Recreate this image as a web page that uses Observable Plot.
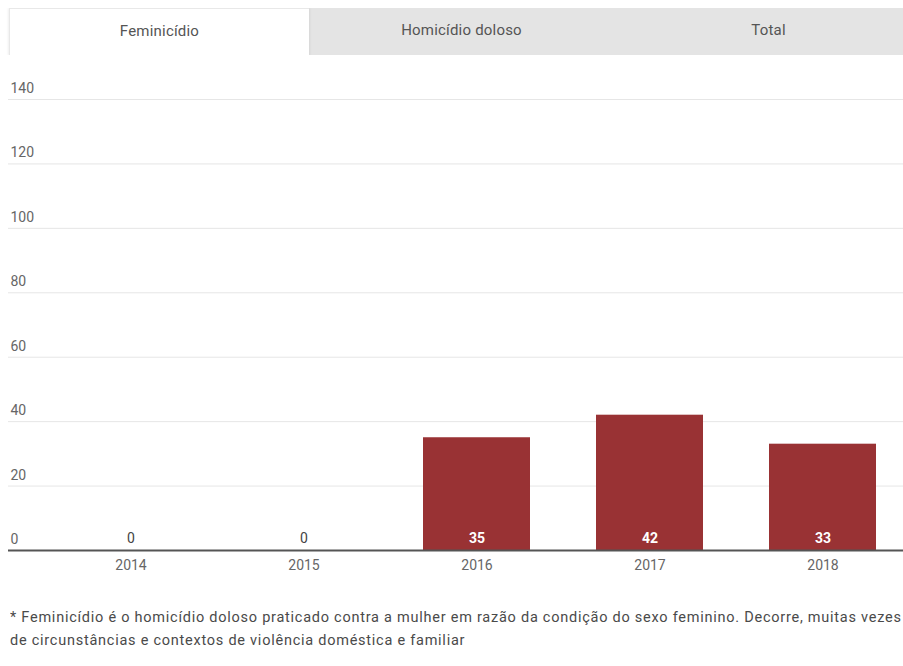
<!DOCTYPE html>
<html>
<head>
<meta charset="utf-8">
<script src="https://cdn.jsdelivr.net/npm/d3@7"></script>
<script src="https://cdn.jsdelivr.net/npm/@observablehq/plot@0.6"></script>
<style>
  html, body { margin: 0; padding: 0; background: #fff; overflow: hidden; width: 903px; height: 666px; font-family: Roboto, "Noto Sans", sans-serif; }
  .tabs { position: absolute; top: 8px; left: 0; width: 903px; height: 47px; overflow: hidden; }
  .tab { position: absolute; top: 0; height: 47px; line-height: 44px; text-align: center; font-size: 15px; letter-spacing: 0.2px; color: #555; }
  .tab.active { background: #fff; box-shadow: 0 0 3px rgba(0,0,0,0.12); border-top: 1px solid #e8e8e8; border-left: 1px solid #e8e8e8; z-index: 2; }
  .tab.inactive { background: #e4e4e4; }
  #chart { position: absolute; top: 60px; left: 0; }
  .note { position: absolute; top: 606px; left: 10px; width: 893px; font-size: 14.5px; letter-spacing: 0.75px; color: #4a4a4a; line-height: 23px; white-space: nowrap; overflow: hidden; }
</style>
</head>
<body>
<div class="tabs" id="tabs"></div>
<div id="chart"></div>
<div class="note" id="note"></div>
<script>
const tabLabels = ["Feminicídio", "Homicídio doloso", "Total"];
const years = ["2014", "2015", "2016", "2017", "2018"];
const values = [0, 0, 35, 42, 33];
const yTicks = [0, 20, 40, 60, 80, 100, 120, 140];
const noteLines = [
  "* Feminicídio é o homicídio doloso praticado contra a mulher em razão da condição do sexo feminino. Decorre, muitas vezes",
  "de circunstâncias e contextos de violência doméstica e familiar"
];

const tabPos = [[9, 299], [308, 307], [615, 307]];
const tabs = document.getElementById("tabs");
tabLabels.forEach((t, i) => {
  const d = document.createElement("div");
  d.className = "tab " + (i === 0 ? "active" : "inactive");
  d.style.left = tabPos[i][0] + "px";
  d.style.width = tabPos[i][1] + "px";
  d.textContent = t;
  tabs.appendChild(d);
});

const data = years.map((y, i) => ({year: y, value: values[i]}));

const chart = Plot.plot({
  width: 903,
  height: 520,
  marginLeft: 8,
  marginRight: 0,
  marginTop: 39,
  marginBottom: 30,
  style: {fontFamily: "Roboto, sans-serif", fontSize: "14px", color: "#666", background: "transparent"},
  x: {domain: years, range: [9, 944], padding: 0.38, label: null},
  y: {domain: [0, 140], label: null, axis: null},
  marks: [
    Plot.ruleY(yTicks.filter(d => d > 0), {stroke: "#e6e6e6", strokeWidth: 1}),
    Plot.text(yTicks, {y: d => d, text: d => String(d), frameAnchor: "left", textAnchor: "start", dx: 2, dy: -11, fill: "#666", fontSize: 14}),
    Plot.barY(data, {x: "year", y: "value", fill: "#993234"}),
    Plot.ruleY([0], {stroke: "#555", strokeWidth: 2}),
    Plot.text(data.filter(d => d.value > 0), {x: "year", y: 0, text: d => String(d.value), dy: -12, fill: "#fff", fontWeight: "bold", fontSize: 14}),
    Plot.text(data.filter(d => d.value === 0), {x: "year", y: 0, text: d => String(d.value), dy: -12, fill: "#444", fontSize: 14}),
    Plot.axisX({tickSize: 0, tickPadding: 10, fontSize: 14, fill: "#666"})
  ]
});
document.getElementById("chart").appendChild(chart);

const note = document.getElementById("note");
noteLines.forEach(l => { const d = document.createElement("div"); d.textContent = l; note.appendChild(d); });
</script>
</body>
</html>
